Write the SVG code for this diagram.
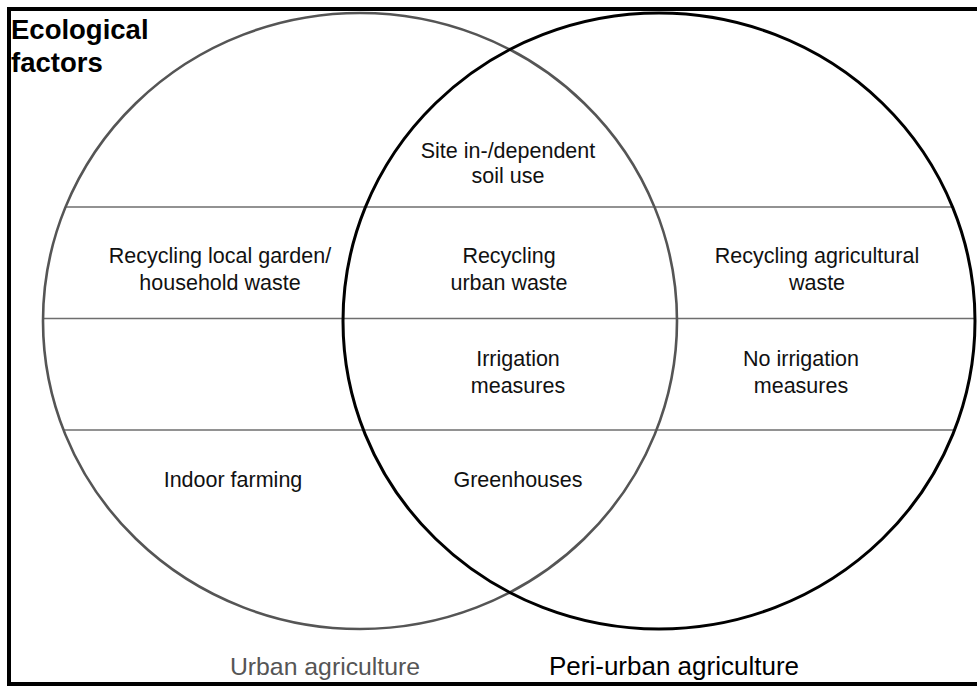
<svg xmlns="http://www.w3.org/2000/svg" width="977" height="686" viewBox="0 0 977 686">
  <style>
    .lbl { font-family: "Liberation Sans", Arial, sans-serif; font-size: 21.5px; fill: #111; text-anchor: middle; }
    .cap { font-family: "Liberation Sans", Arial, sans-serif; text-anchor: middle; }
    .row { stroke: #6e6e6e; stroke-width: 1.6; fill: none; }
  </style>
  <defs>
    <clipPath id="union">
      <ellipse cx="360" cy="321" rx="317" ry="308"/>
      <ellipse cx="659" cy="321" rx="316" ry="308"/>
    </clipPath>
  </defs>
  <rect width="977" height="686" fill="#fff"/>

  <!-- frame -->
  <g id="frame" stroke="#000" stroke-width="4" fill="none">
    <line x1="9" y1="9" x2="977" y2="9"/>
    <line x1="9" y1="7" x2="9" y2="686"/>
    <line x1="7" y1="684" x2="977" y2="684"/>
  </g>

  <!-- row dividers -->
  <g id="connectors" clip-path="url(#union)">
    <line class="row" x1="0" y1="207" x2="977" y2="207"/>
    <line class="row" x1="0" y1="318.5" x2="977" y2="318.5"/>
    <line class="row" x1="0" y1="430" x2="977" y2="430"/>
  </g>

  <g id="urban-circle">
    <ellipse cx="360" cy="321" rx="317" ry="308" fill="none" stroke="#555" stroke-width="2.6"/>
  </g>
  <g id="periurban-circle">
    <ellipse cx="659" cy="321" rx="316" ry="308" fill="none" stroke="#000" stroke-width="3"/>
  </g>

  <g id="title">
    <text x="11" y="39" font-family="Liberation Sans, Arial, sans-serif" font-size="27.5" font-weight="bold" fill="#000">Ecological</text>
    <text x="11" y="72" font-family="Liberation Sans, Arial, sans-serif" font-size="27.5" font-weight="bold" fill="#000">factors</text>
  </g>

  <g id="soil">
    <text class="lbl" x="508" y="158">Site in-/dependent</text>
    <text class="lbl" x="508" y="183">soil use</text>
  </g>
  <g id="waste-urban">
    <text class="lbl" x="220" y="263">Recycling local garden/</text>
    <text class="lbl" x="220" y="290">household waste</text>
  </g>
  <g id="waste-shared">
    <text class="lbl" x="509" y="263">Recycling</text>
    <text class="lbl" x="509" y="290">urban waste</text>
  </g>
  <g id="waste-periurban">
    <text class="lbl" x="817" y="263">Recycling agricultural</text>
    <text class="lbl" x="817" y="290">waste</text>
  </g>
  <g id="irrigation">
    <text class="lbl" x="518" y="366">Irrigation</text>
    <text class="lbl" x="518" y="393">measures</text>
  </g>
  <g id="no-irrigation">
    <text class="lbl" x="801" y="366">No irrigation</text>
    <text class="lbl" x="801" y="393">measures</text>
  </g>
  <g id="indoor">
    <text class="lbl" x="233" y="487">Indoor farming</text>
  </g>
  <g id="greenhouses">
    <text class="lbl" x="518" y="487">Greenhouses</text>
  </g>

  <g id="captions">
    <text class="cap" x="325" y="675" font-size="24.8" fill="#555">Urban agriculture</text>
    <text class="cap" x="674" y="675" font-size="26" fill="#000">Peri-urban agriculture</text>
  </g>
</svg>
